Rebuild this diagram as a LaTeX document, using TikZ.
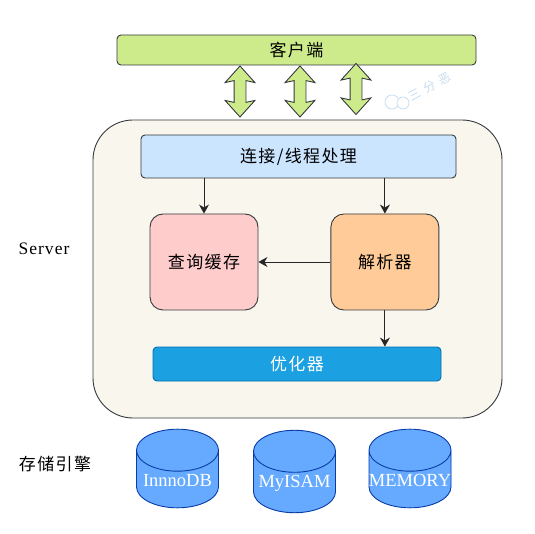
\documentclass[tikz,border=0pt]{standalone}
\usepackage{fontspec}
\setmainfont{Liberation Serif}
\newfontfamily\cjk[LetterSpace=8]{Noto Sans CJK SC}
\newfontfamily\spaced[LetterSpace=6]{Liberation Serif}
\usetikzlibrary{arrows.meta,positioning,calc,shapes.geometric,shapes.arrows}
\definecolor{ink}{HTML}{36393D}
\definecolor{leaf}{HTML}{CDEB8B}
\definecolor{paper}{HTML}{F9F7ED}
\definecolor{sky}{HTML}{CCE5FF}
\definecolor{rose}{HTML}{FFCCCC}
\definecolor{peach}{HTML}{FFCC99}
\definecolor{ocean}{HTML}{1BA1E2}
\definecolor{oceanline}{HTML}{006EAF}
\definecolor{disk}{HTML}{66AAFF}
\definecolor{diskline}{HTML}{0A3CA8}
\definecolor{stamp}{HTML}{C4DBF0}
\newcommand{\disklabel}[1]{\raisebox{-15pt}{\makebox[70pt]{#1}}}
\tikzset{box/.style={draw=ink,line width=.9pt,rounded corners=4pt,align=center,inner sep=0pt,font=\cjk\fontsize{17}{20}\selectfont},stagebox/.style={box,rounded corners=13pt,minimum width=108pt,minimum height=96pt},link/.style={draw=ink,line width=.9pt,fill=leaf,double arrow,rotate=90,inner xsep=0pt,inner ysep=5.5pt,minimum height=51pt,double arrow head extend=9pt,double arrow head indent=2pt,double arrow tip angle=84},store/.style={cylinder,shape border rotate=90,anchor=shape center,draw=diskline,line width=.9pt,fill=disk,cylinder uses custom fill,cylinder body fill=disk,cylinder end fill=disk,aspect=.6,inner sep=0pt,minimum width=82pt,minimum height=72pt,text=white,font=\fontsize{18.5}{20}\selectfont},flow/.style={-{Stealth[length=9pt,width=10pt]},line width=.9pt,draw=black!85},side/.style={font=\cjk\fontsize{17}{20}\selectfont},bubble/.style={circle,draw=stamp,fill=white,line width=.7pt,inner sep=0pt}}
\begin{document}
\begin{tikzpicture}[x=1pt,y=1pt]
\useasboundingbox (0,0) rectangle (535,-534);
\node[box,fill=leaf,minimum width=359pt,minimum height=30pt] (client) at (296.5,-50) {客户端};
\node[box,fill=paper,rounded corners=40pt,minimum width=409pt,minimum height=298pt] (server) at (297.5,-269) {};
\node[link] (linka) at (240,-91.5) {};
\node[link] (linkb) at (300,-91.5) {};
\node[link] (linkc) at (356,-89) {};
\node[box,fill=sky,minimum width=315pt,minimum height=43pt] (conn) at (298.5,-156.5) {连接/线程处理};
\node[stagebox,fill=rose] (cache) at (204,-262) {查询缓存};
\node[stagebox,fill=peach,right=72pt of cache] (parser) {解析器};
\node[box,fill=ocean,draw=oceanline,text=white,minimum width=288pt,minimum height=34pt] (optimizer) at (297,-364) {优化器};
\draw[flow] (conn.south -| cache.north)--(cache.north);
\draw[flow] (conn.south -| parser.north)--(parser.north);
\draw[flow] (parser)--(cache);
\draw[flow] (parser.south)--(parser.south |- optimizer.north);
\node[store] (innodb) at (177.5,-468.5) {\disklabel{InnnoDB}};
\node[store] (myisam) at (294.5,-471.5) {\disklabel{MyISAM}};
\node[store] (memory) at (410,-468.5) {\disklabel{MEMORY}};
\node[font=\spaced\fontsize{17.5}{20}\selectfont] (serverlabel) at (44,-249) {Server};
\node[side] (storelabel) at (55,-464) {存储引擎};
\node[bubble,minimum size=14pt] (bubblea) at (392,-102) {};
\node[bubble,minimum size=12pt] (bubbleb) at (403,-103) {};
\node[rotate=28,text=stamp,font=\cjk\fontsize{12}{14}\selectfont] (stampmark) at (430,-87) {三\hspace{5pt}分\hspace{5pt}恶};
\end{tikzpicture}
\end{document}
